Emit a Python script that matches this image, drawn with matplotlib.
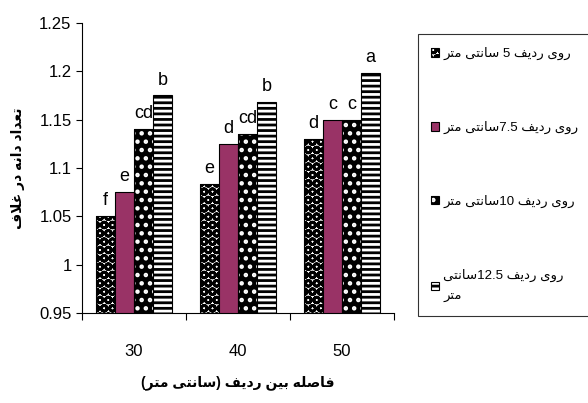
import re
import numpy as np
import matplotlib
matplotlib.use('Agg')
import matplotlib.pyplot as plt


# Persian text shaping (matplotlib has no Arabic shaping of its own)
FORMS = {
    'ا': ('\uFE8D', '\uFE8E'),
    'ب': ('\uFE8F', '\uFE90', '\uFE91', '\uFE92'),
    'ت': ('\uFE95', '\uFE96', '\uFE97', '\uFE98'),
    'د': ('\uFEA9', '\uFEAA'),
    'ر': ('\uFEAD', '\uFEAE'),
    'س': ('\uFEB1', '\uFEB2', '\uFEB3', '\uFEB4'),
    'ص': ('\uFEB9', '\uFEBA', '\uFEBB', '\uFEBC'),
    'ع': ('\uFEC9', '\uFECA', '\uFECB', '\uFECC'),
    'غ': ('\uFECD', '\uFECE', '\uFECF', '\uFED0'),
    'ف': ('\uFED1', '\uFED2', '\uFED3', '\uFED4'),
    'ل': ('\uFEDD', '\uFEDE', '\uFEDF', '\uFEE0'),
    'م': ('\uFEE1', '\uFEE2', '\uFEE3', '\uFEE4'),
    'ن': ('\uFEE5', '\uFEE6', '\uFEE7', '\uFEE8'),
    'ه': ('\uFEE9', '\uFEEA', '\uFEEB', '\uFEEC'),
    'و': ('\uFEED', '\uFEEE'),
    'ی': ('\uFEEF', '\uFEF0', '\uFEF3', '\uFEF4'),
}


def joins_next(ch):
    return ch in FORMS and len(FORMS[ch]) == 4


def shape(text):
    out = []
    n = len(text)
    i = 0
    while i < n:
        c = text[i]
        if c not in FORMS:
            out.append(c)
            i += 1
            continue
        prev_join = i > 0 and joins_next(text[i - 1])
        if c == 'ل' and i + 1 < n and text[i + 1] == 'ا':
            out.append('\uFEFC' if prev_join else '\uFEFB')
            i += 2
            continue
        next_join = joins_next(c) and i + 1 < n and text[i + 1] in FORMS
        f = FORMS[c]
        if prev_join and next_join:
            g = f[3]
        elif prev_join:
            g = f[1]
        elif next_join:
            g = f[2]
        else:
            g = f[0]
        out.append(g)
        i += 1
    return ''.join(out)


def rtl(text):
    lines = []
    for line in text.split('\n'):
        s = shape(line)[::-1]
        s = s.translate(str.maketrans('()', ')('))
        s = re.sub(r'[0-9.]+', lambda m: m.group(0)[::-1], s)
        lines.append(s)
    return '\n'.join(lines)


# data
categories = ['30', '40', '50']
series_names = ['روی ردیف 5 سانتی متر',
                'روی ردیف 7.5سانتی متر',
                'روی ردیف 10سانتی متر',
                'روی ردیف 12.5سانتی\nمتر']
row5 = [1.050, 1.083, 1.130]
row7_5 = [1.075, 1.125, 1.150]
row10 = [1.140, 1.135, 1.150]
row12_5 = [1.175, 1.168, 1.198]
letters5 = ['f', 'e', 'd']
letters7_5 = ['e', 'd', 'c']
letters10 = ['cd', 'cd', 'c']
letters12_5 = ['b', 'b', 'a']
y_ticks = [0.95, 1.0, 1.05, 1.1, 1.15, 1.2, 1.25]
y_ticklabels = ['0.95', '1', '1.05', '1.1', '1.15', '1.2', '1.25']

plt.rcParams['font.family'] = ['Liberation Sans', 'DejaVu Sans']
plt.rcParams['hatch.linewidth'] = 2.0

fig = plt.figure(figsize=(5.88, 4.03), dpi=100)
ax = fig.add_axes([82 / 588, 1 - 313 / 403, 312 / 588, 290 / 403])

x = np.arange(len(categories))
w = 0.183
values = [row5, row7_5, row10, row12_5]
letters = [letters5, letters7_5, letters10, letters12_5]
faces = ['white', '#993366', 'black', 'white']
hatch_cols = ['black', 'black', 'white', 'black']
hatches = ['OO', None, '..', '---']

handles = []
for k in range(4):
    pos = x + (k - 1.5) * w
    fill = ax.bar(pos, values[k], w, color=faces[k], edgecolor=hatch_cols[k],
                  linewidth=0, hatch=hatches[k])
    outline = ax.bar(pos, values[k], w, fill=False, edgecolor='black', linewidth=0.8)
    handles.append((fill[0], outline[0]))
    for b, lab in zip(outline, letters[k]):
        ax.annotate(lab, (b.get_x() + b.get_width() / 2, b.get_height()),
                    xytext=(0, 5), textcoords='offset points',
                    ha='center', va='bottom', fontsize=13)

ax.set_ylim(0.95, 1.25)
ax.set_xlim(-0.5, 2.5)
ax.set_yticks(y_ticks)
ax.set_yticklabels(y_ticklabels, fontsize=12)
ax.set_xticks([-0.5, 0.5, 1.5, 2.5])
ax.set_xticklabels([])
ax.set_xticks(x, minor=True)
ax.set_xticklabels(categories, minor=True, fontsize=12)
ax.tick_params(axis='x', which='minor', length=0, pad=22)
ax.tick_params(axis='x', which='major', length=5, direction='out')
ax.tick_params(axis='y', length=4, direction='out')
ax.spines['top'].set_visible(False)
ax.spines['right'].set_visible(False)

ax.set_ylabel(rtl('تعداد دانه در غلاف'), fontsize=10, fontweight='bold', labelpad=10)
ax.set_xlabel(rtl('فاصله بین ردیف (سانتی متر)'), fontsize=10, fontweight='bold', labelpad=12)

leg = fig.legend(handles, [rtl(s) for s in series_names],
                 loc='upper left', bbox_to_anchor=(418 / 588, 1 - 34 / 403),
                 fontsize=9.5, frameon=True, fancybox=False, edgecolor='black',
                 handlelength=0.6, handleheight=0.6, handletextpad=0.3,
                 labelspacing=4.6, borderpad=1.0, borderaxespad=0)
leg.get_frame().set_linewidth(0.8)
for t in leg.get_texts():
    t.set_linespacing(2.0)

fig.savefig('out.png', dpi=100)
